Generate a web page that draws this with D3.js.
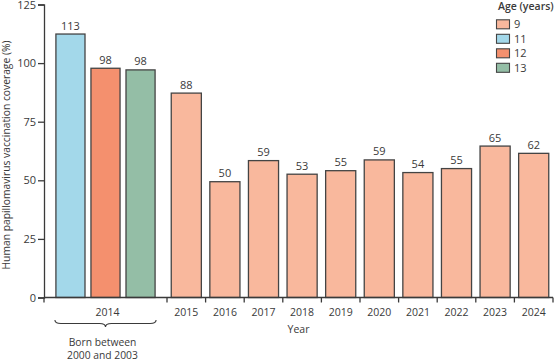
<!DOCTYPE html>
<html>
<head>
<meta charset="utf-8">
<script src="https://cdn.jsdelivr.net/npm/d3@7"></script>
<style>
  html, body { margin: 0; padding: 0; background: #fff; }
  svg { display: block; font-family: "Open Sans", "Noto Sans", sans-serif; }
</style>
</head>
<body>
<svg id="chart" width="554" height="361"></svg>
<script>
// ---- data ----
const groupAges = ["11", "12", "13"];           // 2014 group (born 2000–2003)
const groupValues = [112.4, 97.8, 97.1];
const groupLabels = ["113", "98", "98"];

const years = ["2015","2016","2017","2018","2019","2020","2021","2022","2023","2024"];
const yearValues = [87.2, 49.4, 58.4, 52.6, 54.1, 58.7, 53.3, 55.0, 64.6, 61.5];
const yearLabels = ["88","50","59","53","55","59","54","55","65","62"];

const legendAges = ["9", "11", "12", "13"];
const ageColors = { "9": "#f9b89d", "11": "#a3d8ea", "12": "#f4906e", "13": "#94bea6" };
const yTicks = [0, 25, 50, 75, 100, 125];

// ---- layout ----
const svg = d3.select("#chart");
const x0 = 44, xSplit = 167, x1 = 553;
const y = d3.scaleLinear().domain([0, 125]).range([297.5, 4.5]);

const xg = d3.scaleBand().domain(groupAges).range([x0, xSplit]).paddingInner(0.17).paddingOuter(0.34);
const xy = d3.scaleBand().domain(years).range([xSplit, x1]).paddingInner(0.22).paddingOuter(0.11);

const textCol = "#3a3a3a", axisCol = "#3a3a3a", strokeCol = "#444";
const fs = "10.5px";

// ---- y axis ----
const yAxis = svg.append("g").attr("transform", `translate(${x0},0)`)
  .call(d3.axisLeft(y).tickValues(yTicks).tickSize(6).tickPadding(2));
yAxis.select(".domain").attr("stroke", axisCol).attr("stroke-width", 1.3);
yAxis.selectAll(".tick line").attr("stroke", axisCol).attr("stroke-width", 1.3);
yAxis.selectAll(".tick text").attr("fill", textCol).style("font-size", "11px")
  .style("font-family", "'Open Sans', sans-serif");

svg.append("text")
  .attr("transform", `translate(10,${(y(0) + y(125)) / 2 + 4}) rotate(-90)`)
  .attr("text-anchor", "middle").attr("fill", textCol)
  .style("font-size", "10.3px")
  .text("Human papillomavirus vaccination coverage (%)");

// ---- bars ----
const bars = svg.append("g");
bars.selectAll("rect.g").data(groupAges).join("rect")
  .attr("x", d => xg(d)).attr("width", xg.bandwidth())
  .attr("y", (d, i) => y(groupValues[i]))
  .attr("height", (d, i) => y(0) - y(groupValues[i]))
  .attr("fill", d => ageColors[d]).attr("stroke", strokeCol).attr("stroke-width", 1.3);

bars.selectAll("rect.y").data(years).join("rect")
  .attr("x", d => xy(d)).attr("width", xy.bandwidth())
  .attr("y", (d, i) => y(yearValues[i]))
  .attr("height", (d, i) => y(0) - y(yearValues[i]))
  .attr("fill", ageColors["9"]).attr("stroke", strokeCol).attr("stroke-width", 1.3);

// value labels
const lab = svg.append("g").attr("fill", textCol).style("font-size", "11px").attr("text-anchor", "middle");
groupAges.forEach((d, i) => {
  lab.append("text").attr("x", xg(d) + xg.bandwidth() / 2).attr("y", y(groupValues[i]) - 4.5).text(groupLabels[i]);
});
years.forEach((d, i) => {
  lab.append("text").attr("x", xy(d) + xy.bandwidth() / 2).attr("y", y(yearValues[i]) - 4.5).text(yearLabels[i]);
});

// ---- x axis ----
const xa = svg.append("g");
xa.append("line").attr("x1", x0).attr("x2", x1).attr("y1", y(0)).attr("y2", y(0))
  .attr("stroke", axisCol).attr("stroke-width", 1.3);
const tickXs = [x0, xSplit].concat(years.map(d => xy(d) - xy.step() * xy.paddingInner() / 2 + xy.step()));
tickXs.forEach(tx => {
  xa.append("line").attr("x1", tx).attr("x2", tx).attr("y1", y(0)).attr("y2", y(0) + 5)
    .attr("stroke", axisCol).attr("stroke-width", 1.3);
});
const xl = svg.append("g").attr("fill", textCol).style("font-size", fs).attr("text-anchor", "middle");
xl.append("text").attr("x", (xg(groupAges[0]) + xg(groupAges[2]) + xg.bandwidth()) / 2 + 2).attr("y", 315.5).text("2014");
years.forEach(d => {
  xl.append("text").attr("x", xy(d) + xy.bandwidth() / 2).attr("y", 315.5).text(d);
});
svg.append("text").attr("x", (x0 + x1) / 2).attr("y", 333).attr("text-anchor", "middle")
  .attr("fill", textCol).style("font-size", fs).text("Year");

// brace
const bx0 = xg(groupAges[0]) - 1, bx1 = xg(groupAges[2]) + xg.bandwidth() + 1;
const bm = (bx0 + bx1) / 2, by = 320, bh = 3.5;
svg.append("path")
  .attr("d", `M${bx0},${by} Q${bx0},${by + bh} ${bx0 + 6},${by + bh} L${bm - 6},${by + bh} Q${bm},${by + bh} ${bm},${by + 2 * bh}`
    + ` M${bx1},${by} Q${bx1},${by + bh} ${bx1 - 6},${by + bh} L${bm + 6},${by + bh} Q${bm},${by + bh} ${bm},${by + 2 * bh}`)
  .attr("fill", "none").attr("stroke", axisCol).attr("stroke-width", 1.1);
svg.append("text").attr("x", bm - 3).attr("y", 345.5).attr("text-anchor", "middle")
  .attr("fill", textCol).style("font-size", "10.3px").text("Born between");
svg.append("text").attr("x", bm - 3).attr("y", 359).attr("text-anchor", "middle")
  .attr("fill", textCol).style("font-size", "10.3px").text("2000 and 2003");

// ---- legend ----
const lg = svg.append("g");
lg.append("text").attr("x", 498).attr("y", 9.5).attr("fill", textCol)
  .style("font-size", "10.5px").style("font-weight", "600").text("Age (years)");
legendAges.forEach((a, i) => {
  const cy = 24.3 + i * 14.5;
  lg.append("rect").attr("x", 496.5).attr("y", cy - 4.5).attr("width", 13).attr("height", 9)
    .attr("fill", ageColors[a]).attr("stroke", strokeCol).attr("stroke-width", 1.1);
  lg.append("text").attr("x", 514).attr("y", cy + 4).attr("fill", textCol)
    .style("font-size", "11px").text(a);
});
</script>
</body>
</html>
